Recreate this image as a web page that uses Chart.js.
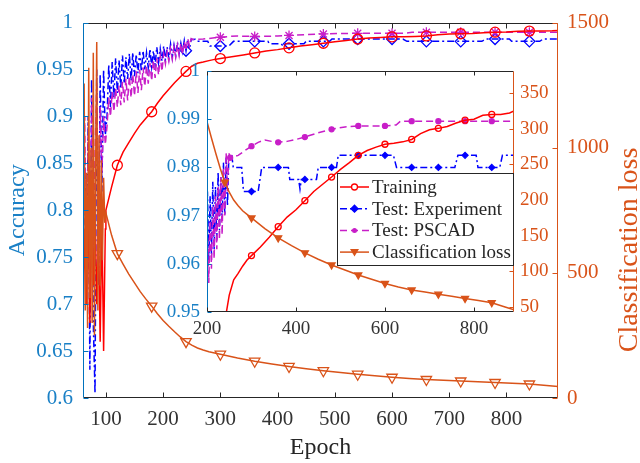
<!DOCTYPE html>
<html>
<head>
<meta charset="utf-8">
<script src="https://cdn.jsdelivr.net/npm/chart.js@4.4.1/dist/chart.umd.min.js"></script>
<style>
    html, body { margin: 0; padding: 0; background: #fff; }
    #wrap { position: relative; width: 640px; height: 463px; }
    #wrap canvas { position: absolute; left: 0; top: 0; }
</style>
</head>
<body>
<div id="wrap">
    <canvas id="mainChart" width="640" height="463"></canvas>
    <canvas id="insetChart" width="640" height="463"></canvas>
</div>
<script>
// ============================================
// Courbes d'apprentissage : précision + perte
// ============================================

// Début de l'entraînement (une valeur toutes les 3 époques)
const earlyEpochs = [60,63,66,69,72,75,78,81,84,87,90,93,96,99,102,105,108,111,114,117,120,123,126,129,132,135,138,141,144,147,150,153,156,159,162,165,168,171,174,177,180,183,186,189,192,195,198,201,204,207,210,213,216,219,222,225,228,231,234,237,240,243,246,249];
const expEarly = [0.72,0.86,0.70,0.90,0.63,0.94,0.68,0.605,0.95,0.72,0.945,0.82,0.95,0.88,
    0.90,0.955,0.91,0.958,0.92,0.962,0.925,0.96,0.93,0.965,0.935,0.963,0.94,0.967,0.938,0.968,0.943,0.966,0.946,0.969,
    0.948,0.97,0.95,0.968,0.952,0.972,0.953,0.97,0.955,0.974,0.957,0.972,0.959,0.975,0.96,0.974,0.962,0.977,0.963,0.976,
    0.965,0.979,0.967,0.978,0.969,0.981,0.97,0.982,0.972,0.982];
const pscadEarly = [0.78,0.90,0.72,0.88,0.70,0.92,0.75,0.86,0.93,0.78,0.91,0.84,0.90,0.87,
    0.89,0.92,0.90,0.926,0.905,0.93,0.91,0.933,0.912,0.937,0.915,0.94,0.917,0.943,0.92,0.945,0.922,0.948,0.925,0.95,
    0.928,0.952,0.932,0.954,0.935,0.957,0.938,0.96,0.941,0.962,0.944,0.964,0.948,0.967,0.956,0.969,0.959,0.972,0.961,0.974,
    0.963,0.976,0.965,0.978,0.966,0.98,0.97,0.983,0.975,0.983];

// Test : Experiment (palier par palier)
const expEpochs = [252,256,259,278,282,300,315,323,360,383,386,406,409,412,420,446,450,480,491,495,540,600,619,626,660,720,757,764,780,805,809,840,858,864,890];
const expAcc = [0.982,0.9823,0.98,0.98,0.975,0.975,0.975,0.98,0.98,0.98,0.9775,0.9775,0.9755,0.9775,0.9775,0.9775,0.98,0.98,0.98,0.9825,
    0.9825,0.9825,0.9825,0.98,0.98,0.98,0.98,0.9825,0.9825,0.9825,0.98,0.98,0.98,0.9825,0.9825];

// Test : PSCAD
const pscadEpochs = [252,270,290,300,315,330,345,360,380,400,420,450,480,510,540,570,600,625,635,660,720,780,840,890];
const pscadAcc = [0.982,0.9825,0.9838,0.9844,0.9852,0.9857,0.9854,0.9852,0.9854,0.9858,0.9863,0.9872,0.9879,0.9884,0.9886,0.9886,0.9886,0.9888,0.9896,0.9896,0.9896,0.9896,0.9896,0.9896];

// Training
const trainEpochs = [60,63,66,69,72,75,78,81,84,87,90,93,96,99,100,110,120,130,140,150,160,170,180,190,200,210,220,230,240,250,260,270,280,290,300,320,340,360,380,400,420,440,460,480,500,520,540,560,580,600,620,640,660,680,700,720,740,760,780,800,820,840,860,880,890];
const trainAcc = [0.67,0.78,0.70,0.80,0.68,0.79,0.72,0.80,0.70,0.78,0.66,0.79,0.65,0.78,
    0.80,0.825,0.848,0.862,0.872,0.882,0.891,0.898,0.905,0.914,0.922,0.929,0.936,0.942,0.948,0.9535,0.9567,0.958,0.9595,0.9608,
    0.9617,0.9635,0.9655,0.9677,0.9697,0.9712,0.9731,0.975,0.9765,0.978,0.9796,0.981,0.9825,0.9835,0.9842,0.9848,0.985,0.9853,
    0.9858,0.987,0.9878,0.9881,0.9885,0.9892,0.9898,0.99,0.9908,0.991,0.991,0.9913,0.9917];

// Classification loss
const lossEpochs = [60,62,64,66,68,70,72,74,76,78,80,82,84,86,88,90,92,94,96,98,100,110,120,130,140,150,160,170,180,190,200,210,220,230,240,250,260,270,280,290,300,330,360,390,420,450,480,510,540,570,600,630,660,690,720,750,780,810,840,870,890];
const lossValues = [1000,1257,350,900,280,1320,400,1000,300,1380,250,900,1422,350,1050,450,950,550,880,700,
    740,650,577,535,495,460,425,395,367,337,310,287,265,244,225,211,200,192,185,180,
    175,160,147,136,126,117,109,102,95,89,83,78,74,71,68,65,62,59,56,50,46];

// Graduations
const epochTicks = [100,200,300,400,500,600,700,800];
const accTicks = [0.6,0.65,0.7,0.75,0.8,0.85,0.9,0.95,1];
const lossTicks = [0,500,1000,1500];
const insetEpochTicks = [200,400,600,800];
const insetAccTicks = [0.95,0.96,0.97,0.98,0.99,1];
const insetLossTicks = [50,100,150,200,250,300,350];

// Époques portant un marqueur
const mainMarks = [120,180,240,300,360,420,480,540,600,660,720,780,840];
const mainExpMarks = [240,300,360,420,480,540,600,660,720,780,840];
const mainPscadMarks = [300,360,420,480,540,600,660,720,780,840];
const insetMarks = [300,360,420,480,540,600,660,720,780,840];
const insetPscadMarks = [252,300,360,420,480,540,600,660,720,780,840];
const insetLossMarks = [240,300,360,420,480,540,600,660,720,780,840];

const FONT = '"Liberation Serif", "Times New Roman", serif';
const BLUE = '#0072BD';
const BLUE_TXT = '#1a80c6';
const ORANGE = '#D95319';
const GREY = '#262626';
const RED = '#ff0000';
const EXP_BLUE = '#0000ff';
const MAGENTA = '#c81ec8';

Chart.defaults.font.family = FONT;

const toPoints = (xs, ys) => xs.map((x, i) => ({ x: x, y: ys[i] }));
const trainData = toPoints(trainEpochs, trainAcc);
const expData = toPoints(earlyEpochs, expEarly).concat(toPoints(expEpochs, expAcc));
const pscadData = toPoints(earlyEpochs, pscadEarly).concat(toPoints(pscadEpochs, pscadAcc));
const lossData = toPoints(lossEpochs, lossValues);

// Rayon du marqueur seulement aux époques choisies
function markAt(marks, r) {
    return ctx => (ctx.raw && marks.includes(ctx.raw.x)) ? r : 0;
}

function buildDatasets(inset) {
    const clear = 'rgba(0,0,0,0)';
    return [
        {
            label: 'Training', data: trainData, yAxisID: 'y', order: 1,
            borderColor: RED, borderWidth: 1.5,
            pointStyle: 'circle', pointRadius: markAt(inset ? insetMarks : mainMarks, inset ? 3 : 5),
            pointBorderColor: RED, pointBackgroundColor: clear, pointBorderWidth: 1.3,
            legendMarker: 'circle'
        },
        {
            label: 'Test: Experiment', data: expData, yAxisID: 'y', order: 3,
            borderColor: EXP_BLUE, borderWidth: 1.5, borderDash: [7, 3, 2, 3],
            pointStyle: 'rectRot', pointRadius: markAt(inset ? insetMarks : mainExpMarks, inset ? 3 : 5.5),
            pointBorderColor: EXP_BLUE, pointBackgroundColor: inset ? EXP_BLUE : clear, pointBorderWidth: 1.3,
            legendMarker: 'diamond'
        },
        {
            label: 'Test: PSCAD', data: pscadData, yAxisID: 'y', order: 2,
            borderColor: MAGENTA, borderWidth: 1.5, borderDash: [7, 4],
            pointStyle: inset ? 'circle' : 'star', pointRadius: markAt(inset ? insetPscadMarks : mainPscadMarks, inset ? 2.5 : 5),
            pointBorderColor: MAGENTA, pointBackgroundColor: MAGENTA, pointBorderWidth: 1.3,
            legendMarker: 'dot'
        },
        {
            label: 'Classification loss', data: lossData, yAxisID: 'y1', order: 0,
            borderColor: ORANGE, borderWidth: 1.5,
            pointStyle: 'triangle', pointRotation: 180,
            pointRadius: markAt(inset ? insetLossMarks : mainMarks, inset ? 4 : 6),
            pointBorderColor: ORANGE, pointBackgroundColor: inset ? ORANGE : clear, pointBorderWidth: 1.3,
            legendMarker: 'tri'
        }
    ];
}

function xScale(min, max, ticks, size, pad, height) {
    return {
        type: 'linear', position: 'bottom', min: min, max: max,
        grid: { display: false, drawTicks: false }, border: { display: false },
        afterBuildTicks: s => { s.ticks = ticks.map(v => ({ value: v })); },
        afterFit: s => { s.height = height; },
        ticks: { color: '#333', font: { size: size }, padding: pad, maxRotation: 0, autoSkip: false, callback: v => String(v) }
    };
}

function yScale(pos, min, max, ticks, fmt, color, size, pad, width) {
    return {
        type: 'linear', position: pos, min: min, max: max,
        grid: { display: false, drawTicks: false }, border: { display: false },
        afterBuildTicks: s => { s.ticks = ticks.map(v => ({ value: v })); },
        afterFit: s => { s.width = width; },
        ticks: { color: color, font: { size: size }, padding: pad, autoSkip: false, callback: fmt }
    };
}

const fmtAcc = v => String(+v.toFixed(2));

// Cadre + graduations tournées vers l'intérieur
const framePlugin = {
    id: 'frame',
    afterDatasetsDraw(chart, args, o) {
        const { ctx, chartArea: a, scales } = chart;
        const L = Math.round(a.left) + 0.5, R = Math.round(a.right) - 0.5;
        const T = Math.round(a.top) + 0.5, B = Math.round(a.bottom) - 0.5;
        const seg = (x1, y1, x2, y2, c) => {
            ctx.strokeStyle = c;
            ctx.beginPath(); ctx.moveTo(x1, y1); ctx.lineTo(x2, y2); ctx.stroke();
        };
        ctx.save();
        ctx.lineWidth = 1;
        ctx.setLineDash([]);
        seg(L, T, R, T, GREY);
        seg(L, B, R, B, GREY);
        seg(L, T, L, B, BLUE);
        seg(R, T, R, B, ORANGE);
        scales.x.ticks.forEach(t => {
            const p = Math.round(scales.x.getPixelForValue(t.value)) + 0.5;
            seg(p, B, p, B - o.tick, GREY);
            seg(p, T, p, T + o.tick, GREY);
        });
        scales.y.ticks.forEach(t => {
            const p = Math.round(scales.y.getPixelForValue(t.value)) + 0.5;
            seg(L, p, L + o.tick, p, BLUE);
        });
        scales.y1.ticks.forEach(t => {
            const p = Math.round(scales.y1.getPixelForValue(t.value)) + 0.5;
            seg(R, p, R - o.tick, p, ORANGE);
        });
        ctx.restore();
    }
};

// Titres des axes du graphique principal
const titlesPlugin = {
    id: 'axisTitles',
    afterDraw(chart) {
        const { ctx, chartArea: a } = chart;
        ctx.save();
        ctx.textAlign = 'center';
        ctx.textBaseline = 'middle';
        ctx.font = '24px ' + FONT;
        ctx.fillStyle = GREY;
        ctx.fillText('Epoch', (a.left + a.right) / 2, a.bottom + 50);
        ctx.save();
        ctx.translate(18, (a.top + a.bottom) / 2);
        ctx.rotate(-Math.PI / 2);
        ctx.fillStyle = BLUE_TXT;
        ctx.fillText('Accuracy', 0, 0);
        ctx.restore();
        ctx.translate(630, 250);
        ctx.rotate(-Math.PI / 2);
        ctx.fillStyle = ORANGE;
        ctx.font = '28px ' + FONT;
        ctx.fillText('Classification loss', 0, 0);
        ctx.restore();
    }
};

// Fond blanc du zoom
const insetBg = {
    id: 'insetBg',
    beforeDatasetsDraw(chart) {
        const { ctx, chartArea: a } = chart;
        ctx.save();
        ctx.fillStyle = '#fff';
        ctx.fillRect(a.left, a.top, a.right - a.left, a.bottom - a.top);
        ctx.restore();
    }
};

function drawMarker(ctx, kind, x, y, color) {
    ctx.save();
    ctx.strokeStyle = color;
    ctx.fillStyle = color;
    ctx.lineWidth = 1.3;
    ctx.setLineDash([]);
    ctx.beginPath();
    if (kind === 'circle') {
        ctx.arc(x, y, 3, 0, 2 * Math.PI);
        ctx.fillStyle = '#fff';
        ctx.fill();
        ctx.stroke();
    } else if (kind === 'diamond') {
        ctx.moveTo(x, y - 3.5); ctx.lineTo(x + 3.5, y); ctx.lineTo(x, y + 3.5); ctx.lineTo(x - 3.5, y);
        ctx.closePath(); ctx.fill(); ctx.stroke();
    } else if (kind === 'dot') {
        ctx.arc(x, y, 2.5, 0, 2 * Math.PI);
        ctx.fill();
    } else {
        ctx.moveTo(x - 4.5, y - 3); ctx.lineTo(x + 4.5, y - 3); ctx.lineTo(x, y + 4.5);
        ctx.closePath(); ctx.fill();
    }
    ctx.restore();
}

// Légende dans le zoom
const legendPlugin = {
    id: 'insetLegend',
    afterDraw(chart) {
        const { ctx, chartArea: a } = chart;
        const x0 = Math.round(a.right) - 177, y0 = Math.round(a.top) + 102, w = 176, h = 92;
        ctx.save();
        ctx.fillStyle = '#fff';
        ctx.fillRect(x0, y0, w, h);
        ctx.strokeStyle = GREY;
        ctx.lineWidth = 1;
        ctx.strokeRect(x0 + 0.5, y0 + 0.5, w, h);
        ctx.font = '19px ' + FONT;
        ctx.textBaseline = 'middle';
        chart.data.datasets.forEach((ds, i) => {
            const y = y0 + 14 + i * 21.7;
            ctx.strokeStyle = ds.borderColor;
            ctx.lineWidth = 1.5;
            ctx.setLineDash(ds.borderDash || []);
            ctx.beginPath(); ctx.moveTo(x0 + 3, y); ctx.lineTo(x0 + 32, y); ctx.stroke();
            drawMarker(ctx, ds.legendMarker, x0 + 17.5, y, ds.borderColor);
            ctx.fillStyle = GREY;
            ctx.fillText(ds.label, x0 + 35, y + 1);
        });
        ctx.restore();
    }
};

// Graphique principal
new Chart(document.getElementById('mainChart'), {
    type: 'line',
    data: { datasets: buildDatasets(false) },
    options: {
        responsive: false,
        animation: false,
        events: [],
        layout: { padding: { left: 0, right: 0, top: 16, bottom: 0 } },
        plugins: { legend: { display: false }, tooltip: { enabled: false }, frame: { tick: 5 } },
        scales: {
            x: xScale(60, 890, epochTicks, 21, 9, 65),
            y: yScale('left', 0.6, 1, accTicks, fmtAcc, BLUE_TXT, 21, 10, 83),
            y1: yScale('right', 0, 1500, lossTicks, v => String(v), ORANGE, 21, 9, 82)
        }
    },
    plugins: [framePlugin, titlesPlugin]
});

// Zoom sur les époques 200 à 890
new Chart(document.getElementById('insetChart'), {
    type: 'line',
    data: { datasets: buildDatasets(true) },
    options: {
        responsive: false,
        animation: false,
        events: [],
        layout: { padding: { left: 147, right: 76, top: 71, bottom: 121 } },
        plugins: { legend: { display: false }, tooltip: { enabled: false }, frame: { tick: 4 } },
        scales: {
            x: xScale(200, 890, insetEpochTicks, 19, 6, 30),
            y: yScale('left', 0.95, 1, insetAccTicks, fmtAcc, BLUE_TXT, 19, 7, 60),
            y1: yScale('right', 43, 381, insetLossTicks, v => String(v), ORANGE, 19, 6, 50)
        }
    },
    plugins: [insetBg, framePlugin, legendPlugin]
});
</script>
</body>
</html>
